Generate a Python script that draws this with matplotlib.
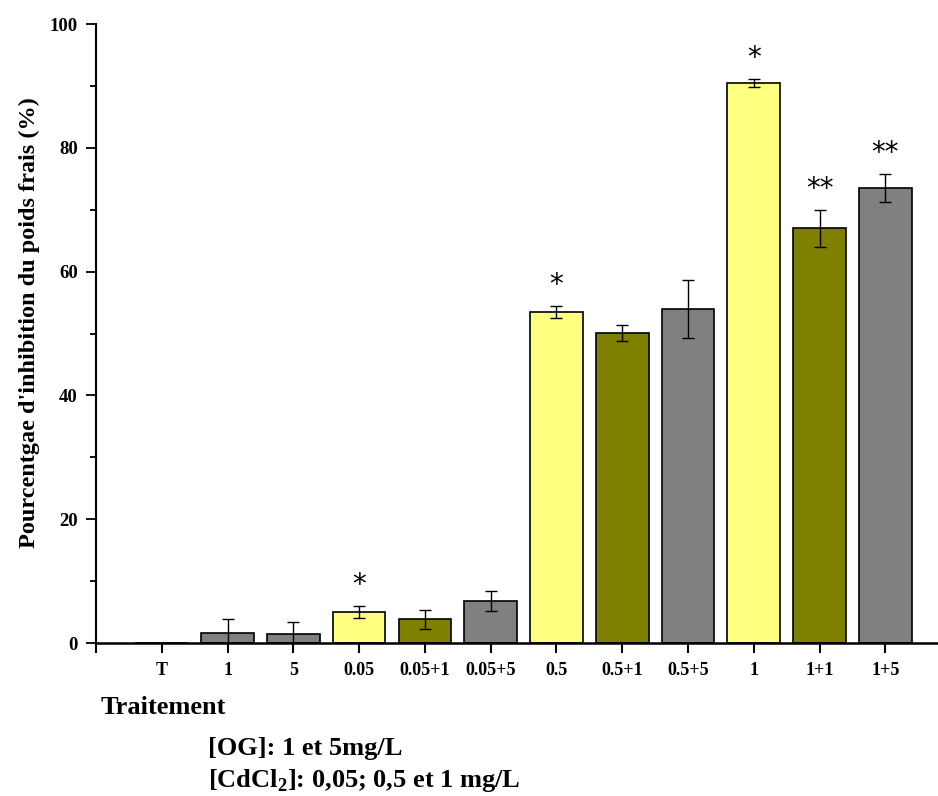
import numpy as np
import matplotlib.pyplot as plt

plt.rcParams['font.family'] = ['Liberation Serif']
plt.rcParams['font.weight'] = 'bold'
plt.rcParams['mathtext.fontset'] = 'custom'
plt.rcParams['mathtext.rm'] = 'Liberation Serif:bold'
plt.rcParams['mathtext.bf'] = 'Liberation Serif:bold'

labels = ["T", "1", "5", "0.05", "0.05+1", "0.05+5",
          "0.5", "0.5+1", "0.5+5", "1", "1+1", "1+5"]
inhibition = [0, 1.6, 1.4, 5.0, 3.8, 6.8, 53.5, 50.1, 54.0, 90.5, 67.0, 73.5]
errors = [0, 2.2, 2.0, 0.9, 1.6, 1.6, 1.0, 1.3, 4.7, 0.7, 3.0, 2.3]
stars = ["", "", "", "*", "", "", "*", "", "", "*", "**", "**"]
bar_colors = ["#808080", "#808080", "#808080", "#FFFF80", "#808000", "#808080",
              "#FFFF80", "#808000", "#808080", "#FFFF80", "#808000", "#808080"]

fig = plt.figure(figsize=(9.38, 7.96), dpi=100)
ax = fig.add_axes([0.1023, 0.1922, 0.8977, 0.7776])

x = np.arange(1, len(labels) + 1)
ax.bar(x, inhibition, width=0.8, color=bar_colors, edgecolor="black",
       linewidth=1.2, zorder=2)
ax.errorbar(x[1:], inhibition[1:], yerr=errors[1:], fmt="none", ecolor="black",
            elinewidth=1, capsize=4, capthick=1, zorder=3)

for xi, v, e, s in zip(x, inhibition, errors, stars):
    if s:
        ax.text(xi, v + e + 2.1, s, ha="center", va="baseline",
                fontsize=20, family="DejaVu Sans", fontweight="normal")

ax.set_xlim(0, 12.8)
ax.set_ylim(0, 100)
ax.set_xticks(np.arange(0, 13))
ax.set_xticklabels([""] + labels, fontsize=13)
ax.set_yticks(np.arange(0, 101, 20))
ax.set_yticks(np.arange(10, 100, 20), minor=True)
ax.tick_params(axis="y", which="major", direction="out", length=7, width=1.3,
               labelsize=13.5, pad=6)
ax.tick_params(axis="y", which="minor", direction="out", length=4.5, width=1.3)
ax.tick_params(axis="x", direction="out", length=7, width=1.5, pad=7)

ax.spines["top"].set_visible(False)
ax.spines["right"].set_visible(False)
ax.spines["left"].set_linewidth(1.5)
ax.spines["bottom"].set_linewidth(1.8)

ax.set_ylabel("Pourcentgae d'inhibition du poids frais (%)", fontsize=17.5,
              fontweight="bold")
ax.yaxis.set_label_coords(-0.067, 0.518)

fig.text(0.107, 0.111, "Traitement", fontsize=19, fontweight="bold", va="center")
fig.text(0.222, 0.060, "[OG]: 1 et 5mg/L", fontsize=19, fontweight="bold",
         va="center")
fig.text(0.222, 0.020, "[CdCl$_2$]: 0,05; 0,5 et 1 mg/L", fontsize=19,
         fontweight="bold", va="center")

fig.savefig("out.png", dpi=100)
